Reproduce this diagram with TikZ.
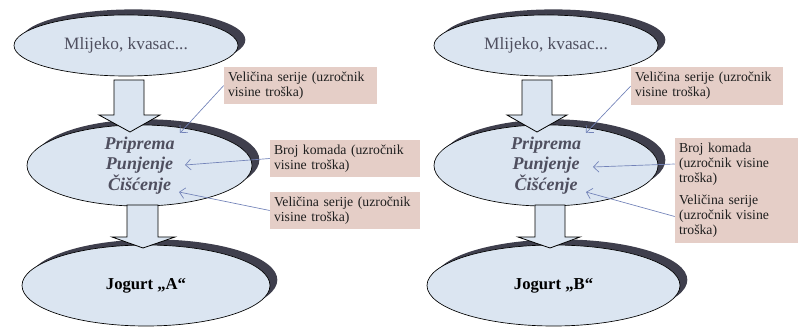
\documentclass[tikz,border=0pt]{standalone}
\usepackage{fontspec}
\setmainfont{Liberation Serif}
\usepackage{xcolor}
\usepackage{tikz}
\usetikzlibrary{shapes.geometric,shadows,arrows.meta}

\definecolor{plavaSvijetla}{HTML}{DBE5F1}
\definecolor{sjena}{HTML}{3F3F4D}
\definecolor{ruzicasta}{HTML}{E5CEC7}
\definecolor{vezaPlava}{HTML}{7282B8}
\definecolor{sivaTekst}{HTML}{4F4F5F}

\begin{document}
\begin{tikzpicture}[x=0.75pt,y=-0.75pt,
		elipsa/.style={ellipse, draw=black, line width=0.5pt, fill=plavaSvijetla, inner sep=0pt,
			general shadow={shadow xshift=5.5pt, shadow yshift=4.2pt, fill=sjena}},
		okvir/.style={rectangle, fill=ruzicasta, inner xsep=3pt, inner ysep=0pt, align=left,
			font=\fontsize{10.3}{11.2}\selectfont, text=black!88},
		strelica/.style={draw=black, line width=0.6pt, fill=plavaSvijetla, line join=miter},
		veza/.style={draw=vezaPlava, line width=0.5pt, -{Straight Barb[length=4pt,width=8pt]}}]
	\useasboundingbox (0,0) rectangle (799,327);

	% lijevi dijagram
	\node[elipsa, minimum width=168pt, minimum height=45.75pt, text=sivaTekst, font=\fontsize{13}{15}\selectfont]
		(ulazA) at (126,45.5) {Mlijeko, kvasac...};
	\node[elipsa, minimum width=168.75pt, minimum height=56.25pt, text=sivaTekst, align=center,
		font=\fontsize{13.5}{15.4}\selectfont\bfseries\itshape]
		(procesA) at (139.5,165.5) {Priprema\\Punjenje\\Čišćenje};
	\node[elipsa, minimum width=186pt, minimum height=60.75pt, font=\fontsize{12.5}{15}\selectfont\bfseries]
		(jogurtA) at (146,285.5) {Jogurt „A“};
	\draw[strelica] (114,80) -- (144,80) -- (144,115) -- (160,115) -- (130,132) -- (99,115) -- (114,115) -- cycle;
	\draw[strelica] (127,205) -- (158,205) -- (158,237) -- (175,237) -- (143,248) -- (112,237) -- (127,237) -- cycle;

	\node[okvir, minimum width=114.75pt, minimum height=27.75pt, text width=108.75pt] (kvA1) at (300.5,85.5)
		{Veličina serije (uzročnik\\visine troška)};
	\node[okvir, minimum width=112.5pt, minimum height=27.75pt, text width=106.5pt] (kvA2) at (345,158.5)
		{Broj komada (uzročnik\\visine troška)};
	\node[okvir, minimum width=112.5pt, minimum height=27.75pt, text width=106.5pt] (kvA3) at (345,210.5)
		{Veličina serije (uzročnik\\visine troška)};
	\coordinate (ciljA1) at (180,133);
	\coordinate (ciljA2) at (185,165);
	\coordinate (ciljA3) at (179,192);
	\draw[veza] (kvA1.west) -- (ciljA1);
	\draw[veza] (kvA2.west) -- (ciljA2);
	\draw[veza] (kvA3.west) -- (ciljA3);

	% desni dijagram
	\node[elipsa, minimum width=168pt, minimum height=45.75pt, text=sivaTekst, font=\fontsize{13}{15}\selectfont]
		(ulazB) at (546,45.5) {Mlijeko, kvasac...};
	\node[elipsa, minimum width=168pt, minimum height=56.25pt, text=sivaTekst, align=center,
		font=\fontsize{13.5}{15.4}\selectfont\bfseries\itshape]
		(procesB) at (546,165.5) {Priprema\\Punjenje\\Čišćenje};
	\node[elipsa, minimum width=189.75pt, minimum height=60.75pt, font=\fontsize{12.5}{15}\selectfont\bfseries]
		(jogurtB) at (553.5,285.5) {Jogurt „B“};
	\draw[strelica] (522,80) -- (552,80) -- (552,115) -- (567,115) -- (537,132) -- (507,115) -- (522,115) -- cycle;
	\draw[strelica] (535,205) -- (565,205) -- (565,237) -- (580,237) -- (550,248) -- (518,237) -- (535,237) -- cycle;

	\node[okvir, minimum width=114pt, minimum height=28.5pt, text width=108pt] (kvB1) at (707,86)
		{Veličina serije (uzročnik\\visine troška)};
	\node[okvir, minimum width=92.25pt, minimum height=39pt, text width=86.25pt] (kvB2) at (736.5,164)
		{Broj komada\\(uzročnik visine\\troška)};
	\node[okvir, minimum width=92.25pt, minimum height=39.75pt, text width=86.25pt] (kvB3) at (736.5,216.5)
		{Veličina serije\\(uzročnik visine\\troška)};
	\coordinate (ciljB1) at (586,133);
	\coordinate (ciljB2) at (593,167);
	\coordinate (ciljB3) at (586,192);
	\draw[veza] (kvB1.west) -- (ciljB1);
	\draw[veza] (kvB2.west) -- (ciljB2);
	\draw[veza] (kvB3.west) -- (ciljB3);
\end{tikzpicture}
\end{document}
